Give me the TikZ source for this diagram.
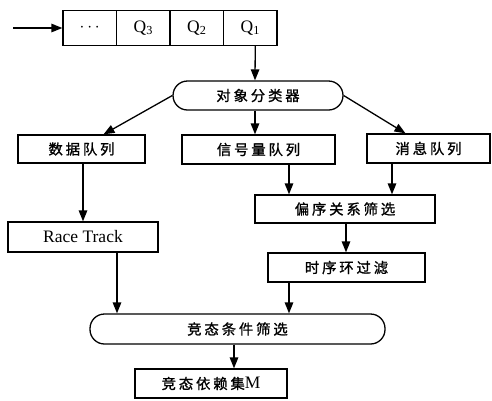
\documentclass[tikz,border=0pt]{standalone}
\usepackage{fontspec}
\usepackage{tikz}
\usetikzlibrary{arrows.meta}
\setmainfont{Liberation Serif}
\newfontfamily\cjk[LetterSpace=20,Scale=0.82,FakeBold=1.2]{Noto Sans CJK SC}

\tikzset{
    box/.style={draw, line width=1.3pt, inner sep=0pt, font=\fontsize{17.5}{19}\selectfont},
    cell/.style={box, minimum width=53.5pt, minimum height=35pt},
    pill/.style={box, rounded corners=14.5pt},
    arr/.style={line width=1.3pt, -{Triangle[length=11pt,width=8.5pt]}}
}

\begin{document}
\begin{tikzpicture}[x=1pt, y=-1pt]
        \useasboundingbox (0,0) rectangle (492,400);

        \foreach \nm/\txt [count=\i from 0] in {qd/{$\cdots$}, q3/{Q\textsubscript{3}}, q2/{Q\textsubscript{2}}, q1/{Q\textsubscript{1}}}
            \node[cell] (\nm) at (89.75+53.5*\i, 28) {\txt};
        \coordinate (in) at (13,28);

        \node[pill, minimum width=170pt, minimum height=29pt] (fenlei) at (258,95.5) {\cjk 对象分类器};

        \node[box, minimum width=127pt, minimum height=28pt] (shuju) at (81.5,149) {\cjk 数据队列};
        \node[box, minimum width=153pt, minimum height=29pt] (xinhao) at (258.5,149.5) {\cjk 信号量队列};
        \node[box, minimum width=123pt, minimum height=29pt] (xiaoxi) at (428.5,148.5) {\cjk 消息队列};

        \node[box, minimum width=180pt, minimum height=28pt] (pianxu) at (345,209) {\cjk 偏序关系筛选};
        \node[box, minimum width=150pt, minimum height=30pt] (race) at (83,237) {Race Track};
        \node[box, minimum width=157pt, minimum height=29pt] (shixu) at (346.5,267.5) {\cjk 时序环过滤};

        \node[pill, minimum width=295pt, minimum height=30pt] (jingtai) at (237.5,329) {\cjk 竞态条件筛选};
        \node[box, minimum width=152pt, minimum height=29pt] (yilai) at (211,383.5) {{\cjk 竞态依赖集}M};

        % connectors
        \draw[arr] (in) -- (qd.west);
        \draw[arr] ([xshift=5pt]q1.south) -- ([xshift=-3pt]fenlei.north);
        \draw[arr] (fenlei.west) -- ([xshift=22pt]shuju.north);
        \draw[arr] ([xshift=-3pt]fenlei.south) -- ([xshift=-3.5pt]xinhao.north);
        \draw[arr] (fenlei.east) -- ([xshift=-23pt]xiaoxi.north);
        \draw[arr] ([xshift=1.5pt]shuju.south) -- ([xshift=0pt]race.north);
        \draw[arr] ([xshift=30.5pt]xinhao.south) -- ([xshift=-56pt]pianxu.north);
        \draw[arr] ([xshift=-36.5pt]xiaoxi.south) -- ([xshift=47pt]pianxu.north);
        \draw[arr] ([xshift=1pt]pianxu.south) -- ([xshift=-0.5pt]shixu.north);
        \draw[arr] ([xshift=34pt]race.south) -- ([xshift=-120.5pt]jingtai.north);
        \draw[arr] ([xshift=-57.5pt]shixu.south) -- ([xshift=51.5pt]jingtai.north);
        \draw[arr] ([xshift=-3.5pt]jingtai.south) -- ([xshift=23pt]yilai.north);
    \end{tikzpicture}
\end{document}
